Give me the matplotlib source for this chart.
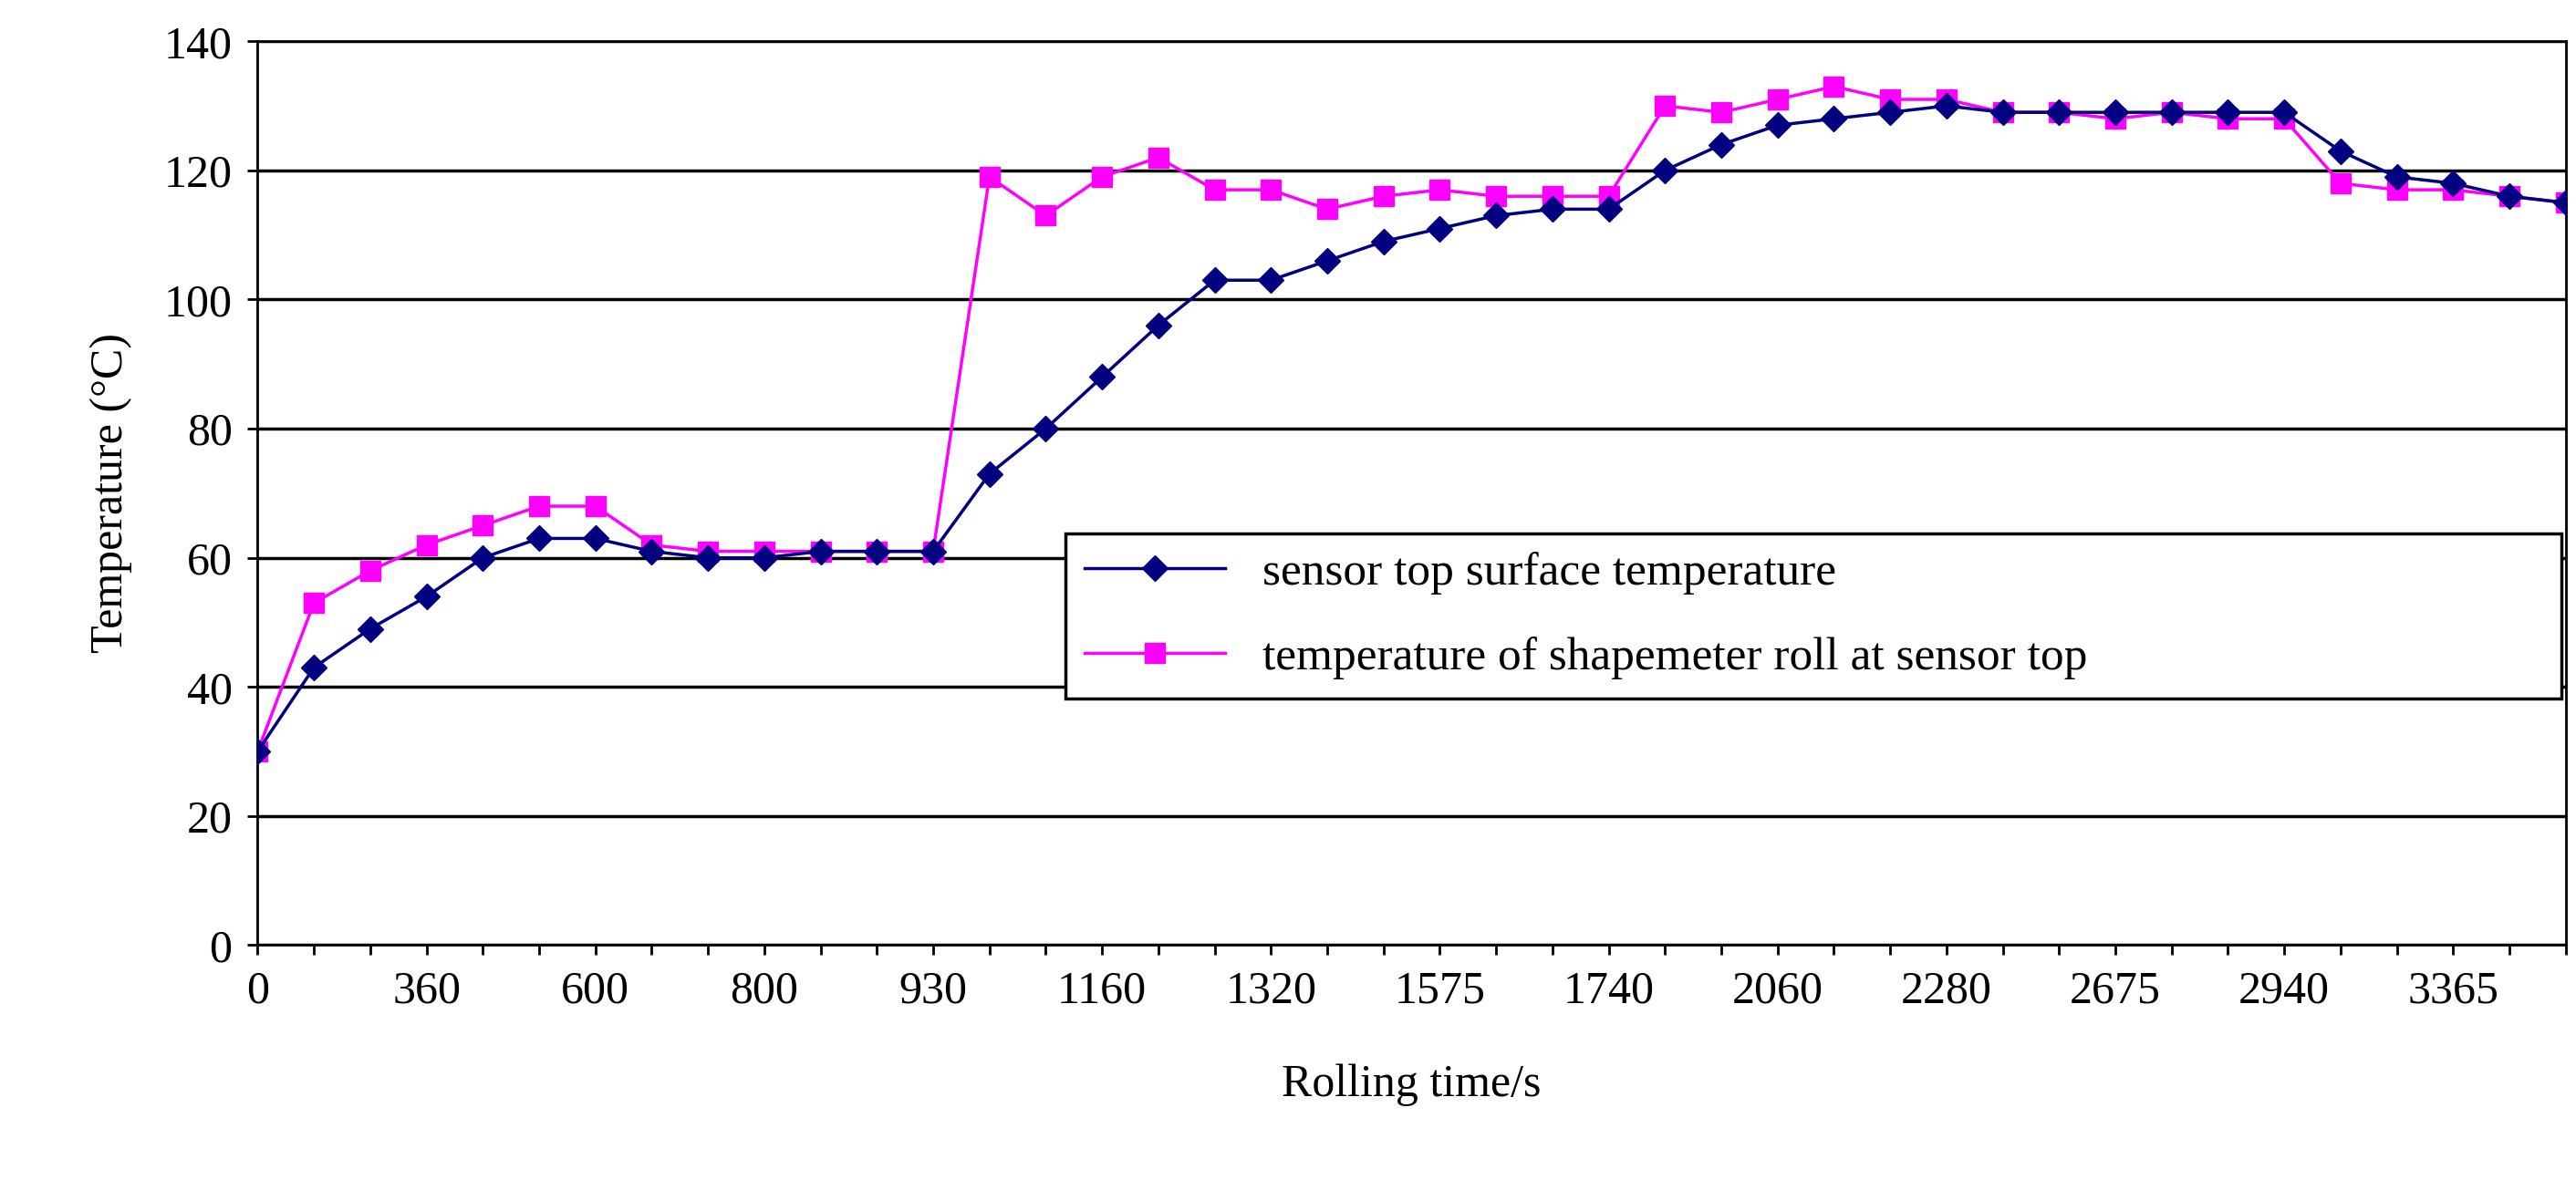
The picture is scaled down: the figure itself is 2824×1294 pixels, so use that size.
import matplotlib
matplotlib.use("Agg")
import matplotlib.pyplot as plt

tick_labels = ["0","360","600","800","930","1160","1320","1575","1740","2060","2280","2675","2940","3365"]
sensor = [30,43,49,54,60,63,63,61,60,60,61,61,61,73,80,88,96,103,103,106,109,111,113,114,114,120,124,127,128,129,130,129,129,129,129,129,129,123,119,118,116,115]
roll = [30,53,58,62,65,68,68,62,61,61,61,61,61,119,113,119,122,117,117,114,116,117,116,116,116,130,129,131,133,131,131,129,129,128,129,128,128,118,117,117,116,115]

plt.rcParams["font.family"] = "Liberation Serif"
fig = plt.figure(figsize=(28.24, 12.94), dpi=100)
ax = fig.add_axes([0.100, 0.199, 0.896, 0.766])
x = list(range(len(sensor)))
ax.plot(x, sensor, color="#000080", marker="D", markersize=14, lw=2.5, label="sensor top surface temperature", zorder=3)
ax.plot(x, roll, color="#FF00FF", marker="s", markersize=16, lw=2.5, label="temperature of shapemeter roll at sensor top", zorder=2)
ax.set_xlim(0, len(sensor)-1)
ax.set_ylim(0, 140)
ax.set_yticks(range(0, 141, 20))
ax.set_xticks(range(0, len(sensor), 3))
ax.set_xticklabels(tick_labels)
ax.set_xticks(x, minor=True)
ax.grid(axis="y", color="black", lw=2.5)
ax.tick_params(labelsize=36, width=2, length=8, pad=12)
ax.tick_params(which="minor", length=8, width=2)
for s in ax.spines.values():
    s.set_linewidth(2)
ax.set_xlabel("Rolling time/s", fontsize=36, labelpad=40)
ax.set_ylabel("Temperature (\u00b0C)", fontsize=36, labelpad=25)
leg = ax.legend(loc="lower left", bbox_to_anchor=(0.35, 0.273, 0.648, 0.212), mode="expand",
                fontsize=37, frameon=True, fancybox=False, edgecolor="black", framealpha=1,
                borderaxespad=0, handlelength=3, labelspacing=0.9)
leg.get_frame().set_linewidth(2.5)
fig.savefig("out.png")
